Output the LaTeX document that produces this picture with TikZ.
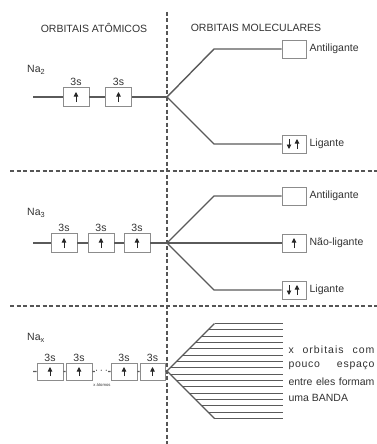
\documentclass[tikz,border=0pt]{standalone}
\usepackage{fontspec}
\setmainfont{Liberation Sans}
\usepackage{xcolor}
\usetikzlibrary{arrows.meta, positioning, calc}
\definecolor{levelgray}{RGB}{90,90,90}
\definecolor{boxgray}{RGB}{140,140,140}
\definecolor{textgray}{RGB}{50,50,50}
\definecolor{dashgray}{RGB}{85,85,85}
\tikzstyle{orbital} = [rectangle, draw=boxgray, fill=white, line width=0.9pt, minimum width=26pt, minimum height=19pt, inner sep=0pt]
\tikzstyle{mobox} = [orbital, minimum width=24pt, minimum height=18pt]
\tikzstyle{level} = [draw=levelgray, line width=1.4pt]
\tikzstyle{spin} = [-{Triangle[length=4.5pt,width=4.5pt]}, line width=0.9pt, draw=black!85]
\tikzstyle{divider} = [draw=dashgray, line width=1.1pt, dash pattern=on 4pt off 2.5pt]
\tikzstyle{txt} = [text=textgray, font=\fontsize{10.5}{12}\selectfont, inner sep=1pt]

\begin{document}
\begin{tikzpicture}[x=1pt, y=-1pt, node distance=16pt]
\useasboundingbox (0,0) rectangle (377,444);

% Headings and dividers
\node (hatom) [txt] at (94,28) {ORBITAIS ATÔMICOS};
\node (hmol) [txt] at (256,28) {ORBITAIS MOLECULARES};
\coordinate (vtop) at (167,12);
\coordinate (vbot) at (167,444);
\coordinate (h1l) at (10,171);
\coordinate (h1r) at (377,171);
\coordinate (h2l) at (10,306);
\coordinate (h2r) at (377,306);
\draw [divider] (vtop) -- (vbot);
\draw [divider] (h1l) -- (h1r);
\draw [divider] (h2l) -- (h2r);

% Na2
\node (na2) [txt, anchor=west] at (26,70) {Na\textsubscript{2}};
\coordinate (s1) at (33,97);
\node (a1) [orbital] at (76,97) {};
\node (a2) [orbital, right of=a1, node distance=42.5pt] {};
\node (a1t) [txt, above=0pt of a1] {3s};
\node (a2t) [txt, above=0pt of a2] {3s};
\coordinate (x1) at (167,97);
\coordinate (up1) at (214,49);
\coordinate (dn1) at (214,144);
\node (anti1) [mobox] at (294,49) {};
\node (lig1) [mobox] at (294,144) {};
\node (anti1t) [txt, right=2pt of anti1] {Antiligante};
\node (lig1t) [txt, right=2pt of lig1] {Ligante};

\draw [level] (s1) -- (a1) -- (a2) -- (x1);
\draw [level] (x1) -- (up1) -- (anti1);
\draw [level] (x1) -- (dn1) -- (lig1);

% Na3
\node (na3) [txt, anchor=west] at (26,213) {Na\textsubscript{3}};
\coordinate (s2) at (33,243);
\node (b1) [orbital] at (64,243) {};
\node (b2) [orbital, right of=b1, node distance=37pt] {};
\node (b3) [orbital, right of=b2, node distance=36pt] {};
\node (b1t) [txt, above=0pt of b1] {3s};
\node (b2t) [txt, above=0pt of b2] {3s};
\node (b3t) [txt, above=0pt of b3] {3s};
\coordinate (x2) at (167,243);
\coordinate (up2) at (214,196);
\coordinate (dn2) at (214,290);
\node (anti2) [mobox] at (294,196) {};
\node (nl2) [mobox] at (294,243) {};
\node (lig2) [mobox] at (294,290) {};
\node (anti2t) [txt, right=2pt of anti2] {Antiligante};
\node (nl2t) [txt, right=2pt of nl2] {Não-ligante};
\node (lig2t) [txt, right=2pt of lig2] {Ligante};

\draw [level] (s2) -- (b1) -- (b2) -- (b3) -- (x2);
\draw [level] (x2) -- (up2) -- (anti2);
\draw [level] (x2) -- (nl2);
\draw [level] (x2) -- (dn2) -- (lig2);

% Nax
\node (nax) [txt, anchor=west] at (26,338) {Na\textsubscript{x}};
\coordinate (s3) at (33,371.5);
\node (c1) [orbital, minimum height=17pt] at (50,371.5) {};
\node (c2) [orbital, minimum height=17pt, right of=c1, node distance=29pt] {};
\node (dots) [txt, inner sep=0pt] at (101.5,371.5) {$\cdots$};
\node (c3) [orbital, minimum height=17pt] at (124,371.5) {};
\node (c4) [orbital, minimum height=17pt, minimum width=25pt, right of=c3, node distance=28.5pt] {};
\node (c1t) [txt, above=0pt of c1] {3s};
\node (c2t) [txt, above=0pt of c2] {3s};
\node (c3t) [txt, above=0pt of c3] {3s};
\node (c4t) [txt, above=0pt of c4] {3s};
\node (xat) [txt, font=\fontsize{4.2}{5}\selectfont] at (102,385) {x átomos};
\coordinate (x3) at (167,371);
\coordinate (btop) at (214.5,323.5);
\coordinate (bbot) at (214.5,418.5);

\draw [level] (s3) -- (c1) -- (c2) -- (dots) -- (c3) -- (c4) -- (x3);
\draw [level] (btop) -- (x3) -- (bbot);
\foreach \i in {0,...,15} {
  \pgfmathsetmacro{\yy}{323.5+\i*6.333}
  \pgfmathsetmacro{\xx}{167+abs(\yy-371)}
  \draw [level, line width=1.2pt] (\xx,\yy) -- (283,\yy);
}

% Band text
\node (band1) [txt] at (331.5,350) {\makebox[86pt][s]{\addfontfeature{LetterSpace=10}x\hfill orbitais\hfill com}};
\node (band2) [txt, below of=band1] {\makebox[86pt][s]{{\addfontfeature{LetterSpace=7}pouco}\hfill{\addfontfeature{LetterSpace=7}espaço}}};
\node (band3) [txt, below of=band2] {\makebox[86pt][s]{entre eles formam}};
\node (band4) [txt, below of=band3] {\makebox[86pt][l]{uma BANDA}};

% Spins
\foreach \b in {a1,a2,b1,b2,b3,nl2}
  \draw [spin] ([yshift=-5pt]\b.center) -- ([yshift=5pt]\b.center);
\foreach \b in {c1,c2,c3,c4}
  \draw [spin] ([yshift=-4.5pt]\b.center) -- ([yshift=4.5pt]\b.center);
\foreach \b in {lig1,lig2} {
  \draw [spin] ([xshift=-5pt,yshift=5pt]\b.center) -- ([xshift=-5pt,yshift=-5pt]\b.center);
  \draw [spin] ([xshift=3pt,yshift=-5pt]\b.center) -- ([xshift=3pt,yshift=5pt]\b.center);
}

\end{tikzpicture}
\end{document}
